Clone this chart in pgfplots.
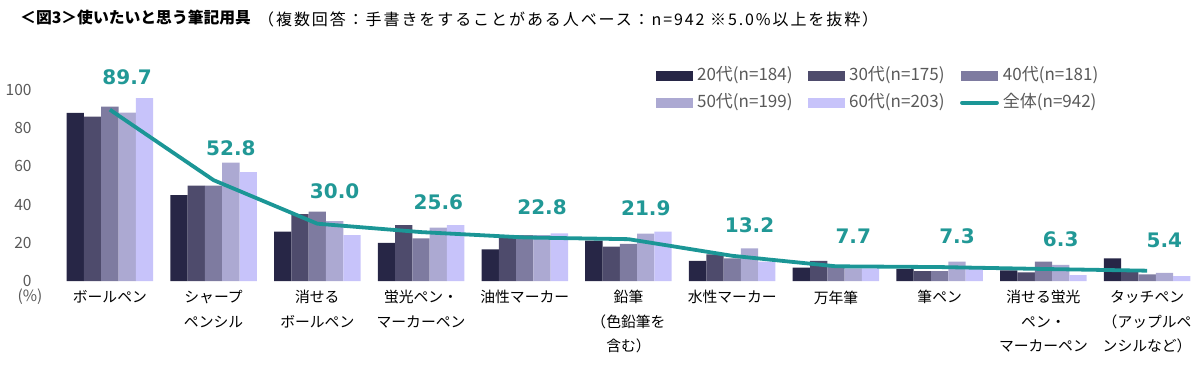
\documentclass[border=0pt]{standalone}
\usepackage{pgfplots}
\pgfplotsset{compat=1.18}
\usepackage{fontspec}
\setmainfont{Noto Sans CJK JP}
\newfontfamily\numfont{DejaVu Sans}
\definecolor{cA}{RGB}{39,38,70}
\definecolor{cB}{RGB}{78,75,108}
\definecolor{cC}{RGB}{126,123,160}
\definecolor{cD}{RGB}{172,169,210}
\definecolor{cE}{RGB}{199,195,250}
\definecolor{teal1}{RGB}{27,150,150}
\definecolor{tealtxt}{RGB}{33,152,150}
\definecolor{tickgray}{RGB}{89,89,89}
\pgfplotsset{
  barleg/.style={legend image code/.code={\fill[##1] (0pt,-5pt) rectangle (37pt,5pt);}},
  lineleg/.style={legend image code/.code={\draw[##1,line cap=round] (1pt,0pt) -- (36pt,0pt);}},
}
\begin{document}
\begin{tikzpicture}
\useasboundingbox (0,0) rectangle (1200pt,368pt);
\node[anchor=west,inner sep=0pt] at (20pt,350pt) {\fontsize{15.8}{18}\selectfont\bfseries ＜図3＞使いたいと思う筆記用具};
\node[anchor=west,inner sep=0pt] at (258pt,349pt) {\fontsize{16}{18}\selectfont\addfontfeature{LetterSpace=12}（複数回答：手書きをすることがある人ベース：n=942 ※5.0\%以上を抜粋）};
\node[anchor=center,inner sep=0pt,text=tickgray] at (30pt,71pt) {\fontsize{15.5}{18}\selectfont (\%)};
\begin{axis}[
  at={(58pt,87pt)}, anchor=south west,
  scale only axis, width=1141pt, height=210.1pt,
  xmin=-0.5, xmax=10.5, ymin=0, ymax=110,
  ybar=0pt, bar width=17.3pt,
  clip=false,
  axis line style={draw=none},
  major tick length=0pt,
  ytick={0,20,40,60,80,100},
  /pgf/number format/assume math mode=true,
  yticklabel style={font=\fontsize{15.5}{18}\selectfont, text=tickgray, anchor=east, xshift=-23pt},
  xtick={0,1,2,3,4,5,6,7,8,9,10},
  xticklabels={ボールペン, {シャープ\\ペンシル}, {消せる\\ボールペン}, {蛍光ペン・\\マーカーペン}, 油性マーカー, {鉛筆\\（色鉛筆を\\含む）}, 水性マーカー, 万年筆, 筆ペン, {消せる蛍光\\ペン・\\マーカーペン}, {タッチペン\\（アップルペ\\ンシルなど）}},
  xticklabel style={font=\fontsize{14.8}{24.5}\selectfont, align=center, anchor=north, yshift=-6pt},
  legend columns=3,
  legend style={at={(0.524,1.0186)}, anchor=north west, draw=none, fill=none, inner sep=0pt, column sep=0pt, row sep=10pt,
    nodes={inner sep=0pt, text height=13pt, text depth=4pt, font=\fontsize{17}{18}\selectfont, text=tickgray}},
  legend cell align=left,
]
\addplot[fill=cA, draw=none, barleg] coordinates {(0,88) (1,45) (2,25.8) (3,20) (4,16.6) (5,21.1) (6,10.5) (7,7) (8,6.4) (9,5.6) (10,11.9)};
\addlegendentry{\makebox[115pt][l]{\hspace{4pt}20代(n=184)}}
\addplot[fill=cB, draw=none, barleg] coordinates {(0,86) (1,50) (2,35) (3,29.3) (4,22.9) (5,18) (6,14) (7,10.5) (8,5.2) (9,4.5) (10,5.2)};
\addlegendentry{\makebox[115pt][l]{\hspace{4pt}30代(n=175)}}
\addplot[fill=cC, draw=none, barleg] coordinates {(0,91.3) (1,50) (2,36.3) (3,22.3) (4,24) (5,19.5) (6,11.9) (7,8) (8,5.2) (9,10.1) (10,3.5)};
\addlegendentry{\makebox[115pt][l]{\hspace{4pt}40代(n=181)}}
\addplot[fill=cD, draw=none, barleg] coordinates {(0,88.2) (1,62) (2,31.4) (3,27.9) (4,24) (5,24.8) (6,17.1) (7,6.6) (8,10.1) (9,8.4) (10,4.2)};
\addlegendentry{\makebox[115pt][l]{\hspace{4pt}50代(n=199)}}
\addplot[fill=cE, draw=none, barleg] coordinates {(0,95.7) (1,57) (2,24) (3,29.3) (4,25) (5,25.8) (6,10.1) (7,6.6) (8,7) (9,3.1) (10,2.5)};
\addlegendentry{\makebox[115pt][l]{\hspace{4pt}60代(n=203)}}
\addplot[sharp plot, teal1, line width=3.8pt, no markers, line join=round, lineleg] coordinates {(0,89.7) (1,52.8) (2,30.0) (3,25.6) (4,22.8) (5,21.9) (6,13.2) (7,7.7) (8,7.3) (9,6.3) (10,5.4)};
\addlegendentry{\makebox[115pt][l]{\hspace{4pt}全体(n=942)}}
\addplot[sharp plot, draw=none, no markers, forget plot,
  nodes near coords, point meta=explicit symbolic,
  every node near coord/.append style={anchor=center, yshift=0pt, text=tealtxt, font=\numfont\bfseries\fontsize{20}{24}\selectfont}]
  coordinates {(0,106.8)[89.7] (1,69.6)[52.8] (2,46.8)[30.0] (3,41.5)[25.6] (4,38.7)[22.8] (5,38.2)[21.9] (6,29.0)[13.2] (7,23.6)[7.7] (8,23.6)[7.3] (9,22.0)[6.3] (10,21.1)[5.4]};
\end{axis}
\end{tikzpicture}
\end{document}
